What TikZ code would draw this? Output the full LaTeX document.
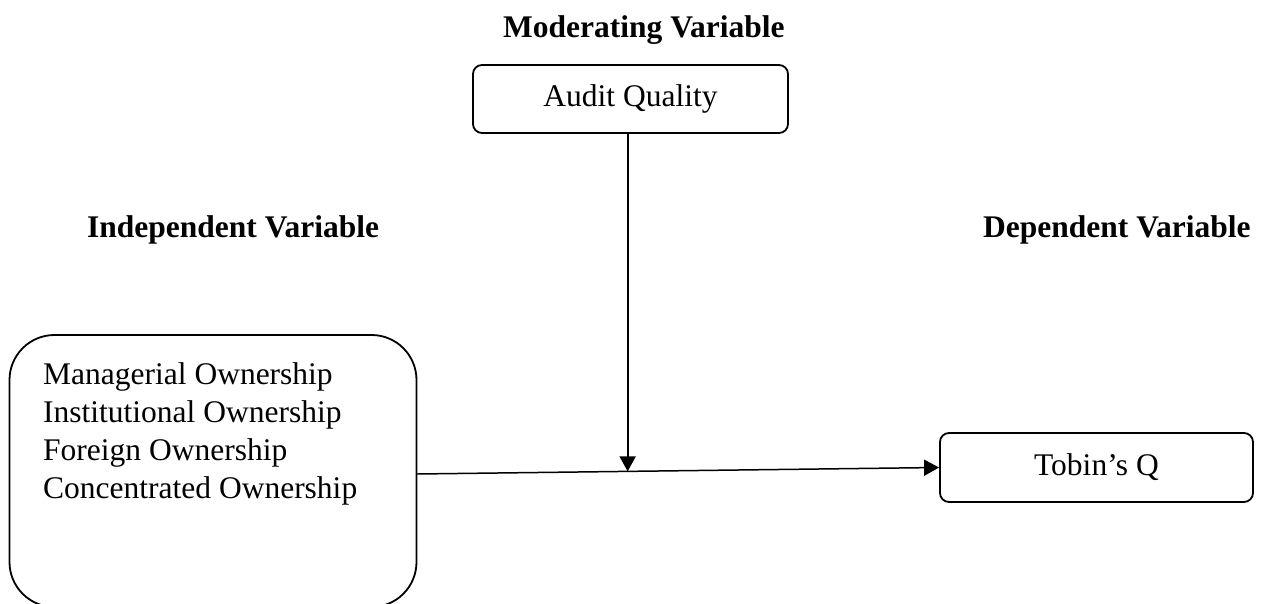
\documentclass[tikz,border=0pt]{standalone}
\usepackage{fontspec}
\setmainfont{Liberation Serif}
\usetikzlibrary{arrows.meta,calc}

\begin{document}
\begin{tikzpicture}[x=1pt,y=-1pt,
  every node/.style={font=\fontsize{31.5}{38}\selectfont},
  varbox/.style={draw, line width=1.8pt, rounded corners=9pt, inner sep=0pt},
  heading/.style={font=\fontsize{31.5}{38}\selectfont\bfseries, inner sep=0pt, anchor=base west},
  link/.style={line width=1.8pt, -{Triangle[length=15pt,width=16pt]}}
]
\useasboundingbox (0,0) rectangle (1262,604);
\clip (0,0) rectangle (1262,604);

% column headings
\node[heading] (hmod) at (503,38) {Moderating Variable};
\node[heading] (hind) at (87,238) {Independent Variable};
\node[heading] (hdep) at (983,238) {Dependent Variable};

% moderating variable
\node[varbox, minimum width=315pt, minimum height=68pt] (aq) at (630.5,99) {Audit Quality};

% dependent variable
\node[varbox, minimum width=313pt, minimum height=69pt] (tq) at (1096.5,467.5) {Tobin’s Q};

% independent variables
\node[varbox, rounded corners=45pt, minimum width=407pt, minimum height=272pt] (iv) at (213,471) {};
\node[anchor=north west, inner sep=0pt, align=left] (ivtext) at (43,362)
  {Managerial Ownership\\Institutional Ownership\\Foreign Ownership\\Concentrated Ownership};

% paths
\coordinate (ivout) at ([yshift=-3pt]iv.east);
\draw[link, line width=1.5pt] (ivout) -- (tq.west);
\coordinate (meet) at ($(ivout)!0.403!(tq.west)$);
\draw[link] (aq.south -| meet) -- (meet);
\end{tikzpicture}
\end{document}
